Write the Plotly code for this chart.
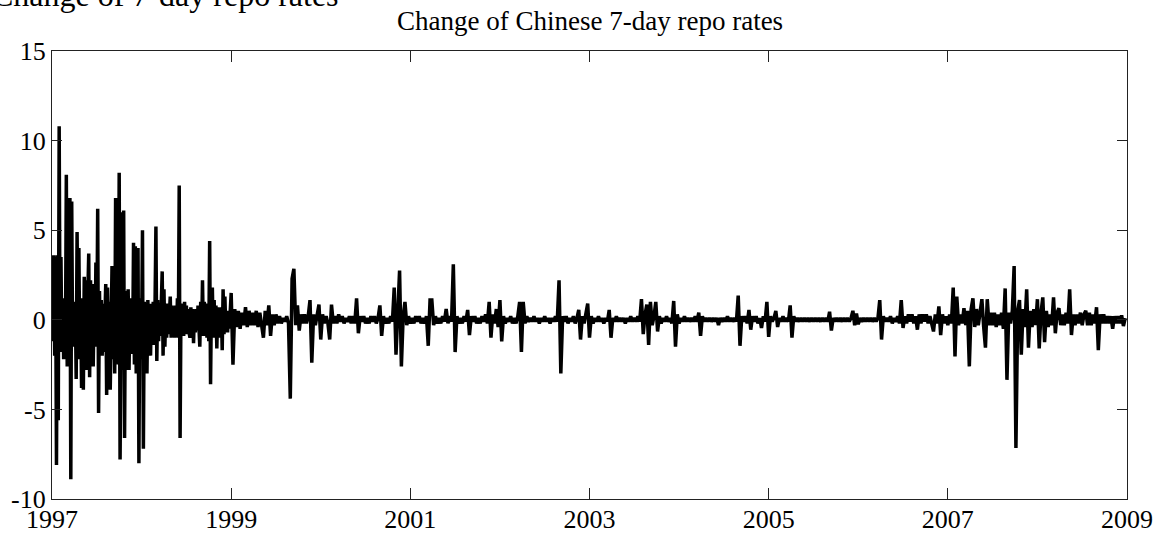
import plotly.graph_objects as go

# ---- data: daily-ish changes of Chinese 7-day repo rate ----
# 1997 and 1998 sampled every 0.01 year, later years every 0.02 year
chg_1997 = [2.6, -1.2, 3.6, -2.0, 3.5, -8.1, 3.6, -5.6, 10.8, -1.5,
            3.5, -1.8, 1.2, -2.2, 0.8, -1.5, 8.1, -2.6, 1.0, -2.5,
            6.8, -8.9, 6.6, -1.5, 0.9, -1.2, 1.0, -3.3, 4.9, -1.0,
            4.0, -2.2, 0.9, -3.8, 1.2, -3.9, 2.4, -1.0, 2.2, -2.8,
            1.4, 3.7, -3.2, 2.2, -1.2, 2.0, -2.6, 1.0, -1.5, 3.2,
            -1.0, 6.2, -5.2, 1.6, -1.5, 1.1, -2.0, 0.9, -1.8, 1.5,
            2.0, -4.2, 1.8, -1.2, 1.0, -3.9, 2.8, 3.0, -2.2, 1.5,
            -3.0, 6.8, -1.8, 2.6, -2.5, 8.2, -7.8, 1.5, 6.0, -2.8,
            6.1, -6.6, 1.6, -2.8, 1.0, 1.7, -2.8, 0.9, -1.5, 1.2,
            -1.9, 4.3, -2.5, 4.1, -3.0, 1.0, 4.0, -8.0, 1.2, -2.2]
chg_1998 = [-1.2, 5.0, -7.2, 1.0, -1.5, 0.8, -3.0, 1.1, -1.2, 0.9,
            -2.0, 0.9, -1.0, 1.0, -1.4, 0.8, 5.2, -2.3, 1.1, -1.2,
            0.9, -0.9, 1.0, 2.7, -2.0, 1.7, -1.5, 0.8, -1.0, 0.9,
            -0.8, 1.0, 1.3, -1.0, 0.8, -0.9, 0.7, -1.0, 0.8, -0.8,
            1.2, -1.0, 7.5, -6.6, 0.9, -0.8, 0.7, -0.9, 1.0, -0.7,
            0.8, -0.8, 0.6, -0.7, -1.0, 0.7, -0.6, 0.6, -1.3, 0.5,
            -0.7, 0.6, -0.6, 0.8, -0.8, -1.5, 1.0, -0.8, 2.2, -0.9,
            1.0, -0.8, 0.9, -1.0, 0.8, -1.2, 4.4, -3.6, 1.2, 1.8,
            -1.0, 1.1, -0.9, 0.8, -1.6, 0.7, -0.8, 0.6, -1.0, 0.7,
            -1.7, 1.7, -0.8, 1.3, -0.6, 0.5, -0.7, 0.5, -0.5, 0.6]
chg_1999 = [1.5, -2.5, 0.6, -0.4, 0.5, -0.5, 0.4, -0.3, 0.7, -0.4,
            0.5, -0.3, 0.4, -0.3, 0.5, -0.4, 0.4, -0.3, -1.0, 0.5,
            -0.3, 0.8, -0.9, 0.3, -0.3, 0.3, -0.2, 0.2, -0.2, 0.1,
            -0.1, 0.2, -0.2, -4.4, 2.3, 2.85, -0.3, 0.8, -0.6, 0.3,
            -0.2, 0.3, -0.2, 0.2, 1.1, -2.4, 0.3, -0.3, 0.2, 0.85]
chg_2000 = [-1.1, 0.3, -0.2, 0.2, -0.2, -1.1, 0.85, -0.2, 0.2, -0.2,
            0.3, -0.1, 0.2, -0.2, 0.1, -0.1, 0.2, -0.2, 0.2, -0.2,
            1.2, -0.75, 0.2, -0.1, 0.2, -0.2, 0.1, -0.2, 0.2, -0.1,
            0.2, -0.2, 0.1, 0.8, -0.9, 0.2, -0.2, 0.1, -0.2, 0.2,
            -0.1, 1.8, -1.95, 0.3, 2.75, -2.6, 0.2, 1.0, -0.3, 0.2]
chg_2001 = [-0.2, 0.1, -0.2, 0.2, -0.1, 0.2, -0.2, 0.1, -0.2, 0.2,
            -1.45, 1.1, 1.1, -0.3, 0.2, -0.2, 0.1, -0.2, 0.2, -0.1,
            0.6, -0.2, 0.2, -0.1, 3.1, -1.8, 0.2, -0.2, 0.1, -0.2,
            0.2, -0.1, 0.55, -0.85, 0.2, -0.1, 0.2, -0.2, 0.1, -0.2,
            0.2, -0.1, 0.3, -0.2, 1.0, -1.0, 0.3, -0.2, 0.6, -0.4]
chg_2002 = [1.1, -1.2, 0.2, -0.2, 0.1, -0.1, 0.2, -0.2, 0.1, -0.2,
            0.2, 1.0, -1.8, 1.0, -0.2, 0.2, -0.1, 0.1, -0.1, 0.2,
            -0.1, 0.1, -0.2, 0.1, -0.1, 0.2, -0.1, 0.1, -0.2, 0.1,
            -0.1, 0.2, -0.1, 2.2, -3.0, 0.2, -0.1, 0.2, -0.2, 0.1,
            -0.1, 0.2, -0.2, 0.1, 0.55, -1.1, 0.2, -0.2, 0.3, 0.9]
chg_2003 = [-1.0, 0.2, -0.2, 0.1, -0.1, 0.2, -0.1, 0.1, -0.2, 0.1,
            -0.1, 0.55, -1.0, 0.1, -0.1, 0.2, -0.1, 0.1, -0.1, 0.1,
            -0.2, 0.1, -0.1, 0.2, -0.1, 0.1, -0.1, 0.2, -0.1, 1.15,
            -0.8, 0.3, 0.85, -1.4, 1.0, -0.3, 0.2, 1.0, -0.65, 0.2,
            -0.2, 0.1, -0.1, 0.2, -0.1, 0.1, -0.2, 1.05, -1.5, 0.3]
chg_2004 = [-0.2, 0.1, -0.1, 0.2, -0.1, 0.1, -0.1, 0.1, -0.1, 0.2,
            -0.1, 0.4, -0.9, 0.2, -0.1, 0.1, -0.1, 0.1, -0.1, 0.1,
            -0.1, 0.1, -0.3, 0.1, -0.1, 0.1, -0.1, 0.2, -0.1, 0.1,
            -0.1, 0.1, -0.1, 1.35, -1.45, 0.2, -0.1, 0.2, -0.2, 0.55,
            -0.55, 0.2, -0.1, 0.2, -0.2, 0.1, -0.45, 0.2, -0.1, 1.0]
chg_2005 = [-0.95, 0.2, -0.1, 0.1, 0.5, -0.4, 0.1, -0.1, 0.2, -0.1,
            0.1, -0.1, 0.8, -1.0, 0.2, -0.1, 0.1, -0.1, 0.1, -0.1,
            0.1, -0.1, 0.1, -0.1, 0.1, -0.1, 0.1, -0.1, 0.1, -0.1,
            0.1, -0.1, 0.1, -0.1, 0.45, -0.6, 0.1, -0.1, 0.1, -0.1,
            0.1, -0.1, 0.1, -0.1, 0.1, -0.1, 0.1, 0.5, -0.3, 0.35]
chg_2006 = [-0.25, 0.1, -0.1, 0.1, -0.1, 0.1, -0.1, 0.1, -0.1, 0.1,
            -0.1, 0.1, 1.1, -1.1, 0.2, -0.1, 0.1, -0.1, 0.2, -0.2,
            0.1, -0.1, 0.2, -0.2, 1.1, -0.45, 0.2, -0.2, 0.3, -0.1,
            0.3, -0.2, 0.2, -0.55, 0.3, -0.2, 0.3, -0.1, 0.3, -0.2,
            0.2, -0.3, -0.65, 0.3, -0.2, 0.75, -0.85, 0.3, -0.2, 0.2]
chg_2007 = [-0.3, 0.3, -0.2, 1.8, -2.05, 1.3, -0.3, 0.3, -0.2, 0.65,
            -0.3, 0.5, -2.6, 0.6, 1.2, -0.4, 0.6, -0.3, 0.5, 1.15,
            -0.4, -1.55, 1.15, -0.3, 0.4, -0.3, 0.4, -0.4, 0.3, -0.3,
            0.4, -0.5, 1.75, -3.35, 0.4, -0.2, 0.5, 3.0, -7.15, 0.5,
            1.1, -1.95, 0.6, -0.4, 1.7, -1.55, 0.5, -0.4, 0.6, -0.3]
chg_2008 = [1.15, -1.6, 0.4, 1.25, -1.25, 0.5, -0.4, 0.3, -0.3, 1.25,
            -0.75, 0.4, 0.65, -0.3, 0.3, -0.3, 0.4, -0.2, 1.7, -0.85,
            0.3, -0.3, 0.3, -0.2, 0.4, -0.3, 0.3, 0.5, -0.3, 0.4,
            -0.3, 0.3, -0.2, 0.7, -1.7, 0.3, -0.2, 0.3, -0.2, 0.2,
            -0.2, 0.2, -0.5, 0.2, -0.2, 0.2, -0.2, 0.25, -0.35, 0.1]

segments = [
    (1997, 0.01, chg_1997), (1998, 0.01, chg_1998),
    (1999, 0.02, chg_1999), (2000, 0.02, chg_2000), (2001, 0.02, chg_2001),
    (2002, 0.02, chg_2002), (2003, 0.02, chg_2003), (2004, 0.02, chg_2004),
    (2005, 0.02, chg_2005), (2006, 0.02, chg_2006), (2007, 0.02, chg_2007),
    (2008, 0.02, chg_2008),
]

x_ticks = [1997, 1999, 2001, 2003, 2005, 2007, 2009]
x_ticklabels = ["1997", "1999", "2001", "2003", "2005", "2007", "2009"]
y_ticks = [-10, -5, 0, 5, 10, 15]
y_ticklabels = ["-10", "-5", "0", "5", "10", "15"]

title_text = "Change of Chinese 7-day repo rates"
cut_text = "Change of 7-day repo rates"

# ---- build series (time index = year + position within year) ----
t_vals, y_vals = [], []
for year, step, vals in segments:
    for k, v in enumerate(vals):
        t_vals.append(year + k * step)
        y_vals.append(v)

FONT = "Liberation Serif"

fig = go.Figure()
fig.add_trace(go.Scatter(
    x=t_vals, y=y_vals, mode="lines",
    line=dict(color="black", width=3.5),
    hoverinfo="skip",
))

axis_common = dict(
    showline=True, linecolor="#222222", linewidth=1.3, mirror="ticks",
    ticks="inside", tickcolor="#222222", tickwidth=1,
    showgrid=False, zeroline=False, automargin=False,
    tickfont=dict(family=FONT, size=26, color="black"),
)

fig.update_layout(
    width=1165, height=538,
    margin=dict(l=52, r=38, t=51, b=39),
    paper_bgcolor="white", plot_bgcolor="white",
    showlegend=False,
    font=dict(family=FONT, color="black"),
    xaxis=dict(range=[1997, 2009], tickmode="array", tickvals=x_ticks,
               ticktext=x_ticklabels, ticklen=11, ticklabelstandoff=-3,
               **axis_common),
    yaxis=dict(range=[-10, 15], tickmode="array", tickvals=y_ticks,
               ticktext=y_ticklabels, ticklen=10, **axis_common),
)

fig.add_annotation(
    text=title_text, xref="paper", yref="paper", x=0.5, y=1.03,
    xanchor="center", yanchor="bottom", showarrow=False,
    font=dict(family=FONT, size=27, color="black"),
)
fig.add_annotation(
    text=cut_text, xref="paper", yref="paper", x=-0.058, y=1.08,
    xanchor="left", yanchor="bottom", showarrow=False,
    font=dict(family=FONT, size=32, color="black"),
)

fig.write_html("out.html")
